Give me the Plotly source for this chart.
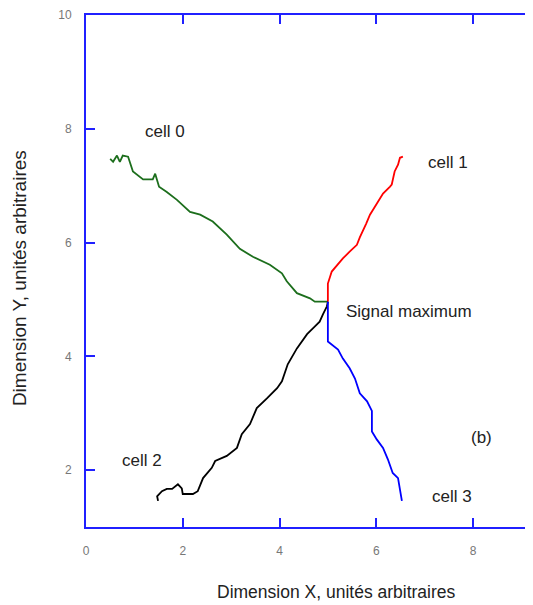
import plotly.graph_objects as go

# cell 0 (green)
cell0_x = [0.50, 0.56, 0.64, 0.70, 0.76, 0.87, 0.97, 1.18, 1.38, 1.43, 1.51, 1.67, 1.88, 2.15, 2.36, 2.62, 2.91, 3.18, 3.45, 3.80, 4.05, 4.15, 4.36, 4.63, 4.73, 5.00]
cell0_y = [7.47, 7.42, 7.53, 7.42, 7.53, 7.51, 7.25, 7.11, 7.11, 7.21, 6.98, 6.89, 6.75, 6.54, 6.49, 6.37, 6.14, 5.89, 5.75, 5.61, 5.46, 5.32, 5.11, 5.02, 4.96, 4.96]
# cell 1 (red)
cell1_x = [5.00, 5.00, 5.08, 5.21, 5.31, 5.45, 5.60, 5.66, 5.70, 5.79, 5.87, 6.01, 6.14, 6.28, 6.32, 6.38, 6.45, 6.49, 6.55]
cell1_y = [4.96, 5.28, 5.49, 5.63, 5.72, 5.84, 5.96, 6.09, 6.16, 6.33, 6.49, 6.68, 6.86, 6.98, 7.02, 7.25, 7.37, 7.49, 7.51]
# cell 2 (black)
cell2_x = [1.49, 1.47, 1.57, 1.67, 1.78, 1.90, 1.98, 2.00, 2.21, 2.31, 2.42, 2.60, 2.67, 2.91, 3.12, 3.22, 3.39, 3.53, 3.74, 3.95, 4.05, 4.17, 4.36, 4.57, 4.69, 4.83, 4.90, 4.98, 5.00]
cell2_y = [1.46, 1.54, 1.63, 1.67, 1.67, 1.75, 1.68, 1.58, 1.58, 1.63, 1.86, 2.04, 2.16, 2.25, 2.39, 2.63, 2.81, 3.09, 3.26, 3.44, 3.56, 3.86, 4.14, 4.39, 4.49, 4.61, 4.74, 4.88, 4.96]
# cell 3 (blue)
cell3_x = [5.00, 5.00, 5.21, 5.31, 5.45, 5.56, 5.66, 5.81, 5.91, 5.91, 6.01, 6.14, 6.24, 6.34, 6.45, 6.49, 6.53]
cell3_y = [4.96, 4.26, 4.12, 3.96, 3.79, 3.61, 3.35, 3.21, 3.04, 2.68, 2.54, 2.39, 2.19, 1.95, 1.86, 1.63, 1.46]

labels = ["cell 0", "cell 1", "cell 2", "cell 3", "Signal maximum", "(b)"]
label_x = [1.63, 7.48, 1.16, 7.56, 6.67, 8.18]
label_y = [7.95, 7.40, 2.17, 1.53, 4.79, 2.58]

x_ticks = [0, 2, 4, 6, 8]
y_ticks = [2, 4, 6, 8, 10]

fig = go.Figure()
for xs, ys, col in [(cell0_x, cell0_y, "#1c6e1c"), (cell1_x, cell1_y, "#ff0000"),
                    (cell2_x, cell2_y, "#000000"), (cell3_x, cell3_y, "#0000ff")]:
    fig.add_trace(go.Scatter(x=xs, y=ys, mode="lines", line=dict(color=col, width=1.8),
                             showlegend=False, hoverinfo="skip"))

for t, xv, yv in zip(labels, label_x, label_y):
    fig.add_annotation(x=xv, y=yv, text=t, showarrow=False,
                       font=dict(family="Liberation Sans, Arial", size=17, color="#222"))

fig.add_annotation(xref="paper", yref="paper", x=0.5615, y=-0.1265, xanchor="center", yanchor="middle",
                   text="Dimension X, unités arbitraires", showarrow=False,
                   font=dict(family="Liberation Sans, Arial", size=17.5, color="#222"))
fig.add_annotation(xref="paper", yref="paper", x=-0.150, y=0.486, xanchor="center", yanchor="middle",
                   textangle=-90,
                   text="Dimension Y, unités arbitraires", showarrow=False,
                   font=dict(family="Liberation Sans, Arial", size=19, color="#222"))

axis_common = dict(showgrid=False, zeroline=False, showline=True, linecolor="#2020ff",
                   linewidth=2, ticks="inside", ticklen=9, tickwidth=2, tickcolor="#2020ff",
                   ticklabeloverflow="allow",
                   tickfont=dict(family="Liberation Sans, Arial", size=12, color="#777"))
fig.update_xaxes(range=[0, 9.24], tickvals=x_ticks, mirror="ticks", ticklabelstandoff=12, **axis_common)
fig.update_yaxes(range=[1, 10], tickvals=y_ticks, mirror=False, ticklabelstandoff=10, **axis_common)

fig.update_layout(width=525, height=597, margin=dict(l=78, r=0, t=5, b=78),
                  plot_bgcolor="white", paper_bgcolor="white")
fig.write_html("out.html")
